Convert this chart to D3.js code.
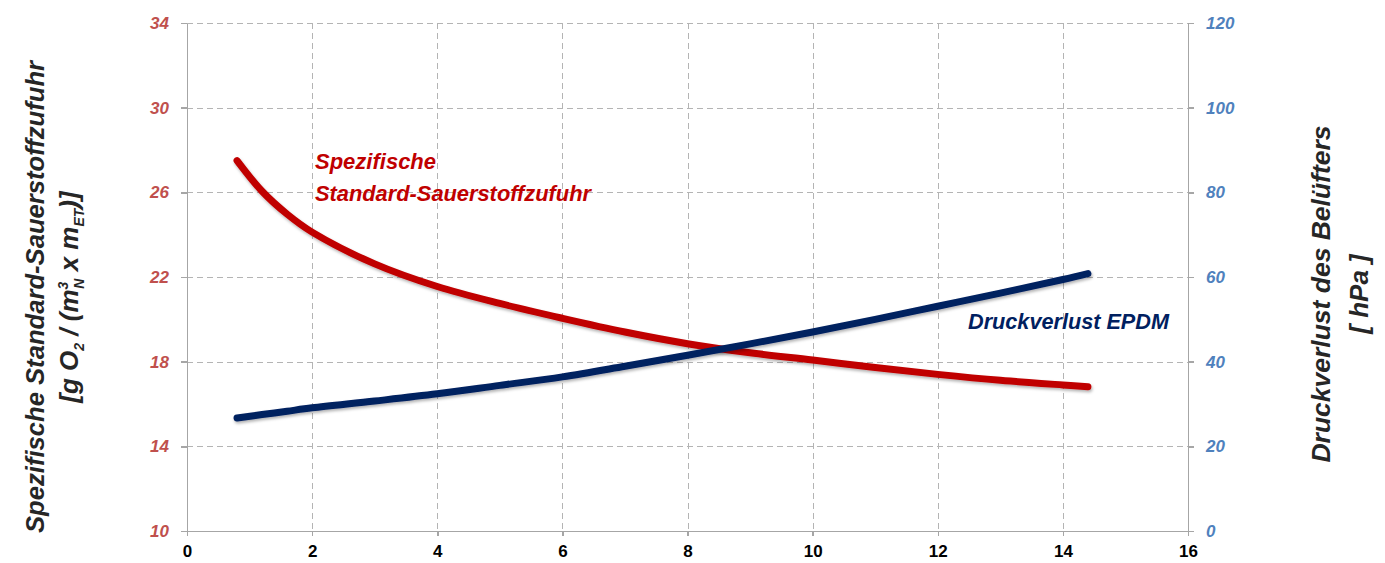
<!DOCTYPE html>
<html lang="de">
<head>
<meta charset="UTF-8">
<title>Sauerstoffzufuhr und Druckverlust</title>
<script src="https://d3js.org/d3.v7.min.js"></script>
<style>
body { margin: 0; background: #fff; font-family: "Liberation Sans", Arial, sans-serif; }
.grid line { stroke: #b4b4b4; stroke-width: 1px; stroke-dasharray: 6,4; shape-rendering: crispEdges; }
.axis path, .axis line { stroke: #a6a6a6; stroke-width: 1.5px; shape-rendering: crispEdges; }
.axis text { font-size: 17px; font-weight: bold; font-family: "Liberation Sans", Arial, sans-serif; }
.ttl { font-weight: bold; font-style: italic; fill: #262626; }
</style>
</head>
<body>
<script>
// x values (Luftvolumenstrom)
var xVals = [0.8, 1.2, 1.6, 2, 3, 4, 5, 6, 7, 8, 9, 10, 11, 12, 13, 14, 14.4];
// Spezifische Standard-Sauerstoffzufuhr (left axis)
var ssotr = [27.5, 26.05, 24.97, 24.12, 22.62, 21.55, 20.75, 20.05, 19.4, 18.85, 18.42, 18.08, 17.72, 17.4, 17.12, 16.9, 16.82];
// Druckverlust EPDM in hPa (right axis)
var dp = [26.7, 27.5, 28.3, 29.1, 30.7, 32.4, 34.4, 36.4, 38.9, 41.5, 44.2, 47.0, 50.0, 53.1, 56.2, 59.4, 60.8];

var xTicks = [0, 2, 4, 6, 8, 10, 12, 14, 16];
var yLeftTicks = [10, 14, 18, 22, 26, 30, 34];
var yRightTicks = [0, 20, 40, 60, 80, 100, 120];

(function() {
var W = 1385, H = 563;
var pl = 187, pr = 1188, pt = 23, pb = 531;

var svg = d3.select("body").append("svg")
    .attr("width", W)
    .attr("height", H);

var x = d3.scaleLinear().domain([0, 16]).range([pl, pr]);
var yL = d3.scaleLinear().domain([10, 34]).range([pb, pt]);
var yR = d3.scaleLinear().domain([0, 120]).range([pb, pt]);

// gridlines
var grid = svg.append("g").attr("class", "grid");
grid.selectAll(".v").data(xTicks.slice(1, -1)).enter().append("line")
    .attr("x1", function(d) { return Math.round(x(d)) + 0.5; })
    .attr("x2", function(d) { return Math.round(x(d)) + 0.5; })
    .attr("y1", pt).attr("y2", pb);
grid.selectAll(".h").data(yLeftTicks.slice(1)).enter().append("line")
    .attr("x1", pl).attr("x2", pr)
    .attr("y1", function(d) { return Math.round(yL(d)) + 0.5; })
    .attr("y2", function(d) { return Math.round(yL(d)) + 0.5; });

// axes
var xAxis = svg.append("g").attr("class", "axis")
    .attr("transform", "translate(0," + pb + ")")
    .call(d3.axisBottom(x).tickValues(xTicks).tickSize(5).tickPadding(9).tickSizeOuter(0));
xAxis.selectAll("text").attr("fill", "#000");

var lAxis = svg.append("g").attr("class", "axis")
    .attr("transform", "translate(" + pl + ",0)")
    .call(d3.axisLeft(yL).tickValues(yLeftTicks).tickSize(6).tickPadding(12).tickSizeOuter(0));
lAxis.selectAll("text")
    .style("font-style", "italic")
    .attr("fill", "#c0504d");

var rAxis = svg.append("g").attr("class", "axis")
    .attr("transform", "translate(" + pr + ",0)")
    .call(d3.axisRight(yR).tickValues(yRightTicks).tickSize(6).tickPadding(12).tickSizeOuter(0));
rAxis.selectAll("text")
    .style("font-style", "italic")
    .attr("fill", "#4f81bd");

// curves
var redLine = d3.line()
    .x(function(d, i) { return x(xVals[i]); })
    .y(function(d) { return yL(d); })
    .curve(d3.curveCatmullRom.alpha(0.5));
var blueLine = d3.line()
    .x(function(d, i) { return x(xVals[i]); })
    .y(function(d) { return yR(d); })
    .curve(d3.curveCatmullRom.alpha(0.5));

var defs = svg.append("defs");
var f = defs.append("filter").attr("id", "sh").attr("x", "-5%").attr("y", "-20%").attr("width", "110%").attr("height", "140%");
f.append("feDropShadow").attr("dx", 1).attr("dy", 2).attr("stdDeviation", 1.5).attr("flood-color", "#000").attr("flood-opacity", 0.3);

svg.append("path").datum(ssotr)
    .attr("d", redLine)
    .attr("fill", "none")
    .attr("stroke", "#c00000")
    .attr("stroke-width", 7)
    .attr("stroke-linecap", "round")
    .attr("filter", "url(#sh)");

svg.append("path").datum(dp)
    .attr("d", blueLine)
    .attr("fill", "none")
    .attr("stroke", "#002060")
    .attr("stroke-width", 7)
    .attr("stroke-linecap", "round")
    .attr("filter", "url(#sh)");

// series labels
var lbl = svg.append("text")
    .attr("x", 315).attr("y", 169)
    .style("font-family", "'Liberation Sans Narrow', 'Liberation Sans', Arial, sans-serif")
    .style("font-weight", "bold").style("font-style", "italic")
    .style("font-size", "22px").style("fill", "#c00000");
lbl.append("tspan").attr("x", 315).text("Spezifische");
lbl.append("tspan").attr("x", 315).attr("dy", 32).attr("textLength", 276).attr("lengthAdjust", "spacingAndGlyphs")
    .text("Standard-Sauerstoffzufuhr");

svg.append("text")
    .attr("x", 968).attr("y", 329)
    .attr("textLength", 201).attr("lengthAdjust", "spacingAndGlyphs")
    .style("font-family", "'Liberation Sans Narrow', 'Liberation Sans', Arial, sans-serif")
    .style("font-weight", "bold").style("font-style", "italic")
    .style("font-size", "22px").style("fill", "#002060")
    .text("Druckverlust EPDM");

// axis titles
var lt = svg.append("text").attr("class", "ttl")
    .attr("transform", "translate(44,297) rotate(-90)")
    .attr("text-anchor", "middle")
    .style("font-family", "'Liberation Sans Narrow', 'Liberation Sans', Arial, sans-serif")
    .style("font-size", "26px");
lt.append("tspan").attr("x", 0).attr("y", 0).attr("textLength", 472).attr("lengthAdjust", "spacingAndGlyphs")
    .text("Spezifische Standard-Sauerstoffzufuhr");
var l2 = lt.append("tspan").attr("x", 0).attr("y", 34);
l2.append("tspan").text("[g O");
l2.append("tspan").attr("dy", 6).style("font-size", "14px").text("2");
l2.append("tspan").attr("dy", -6).text(" / (m");
l2.append("tspan").attr("dy", -10).style("font-size", "14px").text("3");
l2.append("tspan").attr("dx", -7).attr("dy", 16).style("font-size", "14px").text("N");
l2.append("tspan").attr("dy", -6).text(" x m");
l2.append("tspan").attr("dy", 6).style("font-size", "14px").text("ET");
l2.append("tspan").attr("dy", -6).text(")]");

var rt = svg.append("text").attr("class", "ttl")
    .attr("transform", "translate(1330,294) rotate(-90)")
    .attr("text-anchor", "middle")
    .style("font-family", "'Liberation Sans Narrow', 'Liberation Sans', Arial, sans-serif")
    .style("font-size", "26px");
rt.append("tspan").attr("x", 0).attr("y", 0).attr("textLength", 337).attr("lengthAdjust", "spacingAndGlyphs")
    .text("Druckverlust des Belüfters");
rt.append("tspan").attr("x", 0).attr("y", 38).text("[ hPa ]");
})();
</script>
</body>
</html>
